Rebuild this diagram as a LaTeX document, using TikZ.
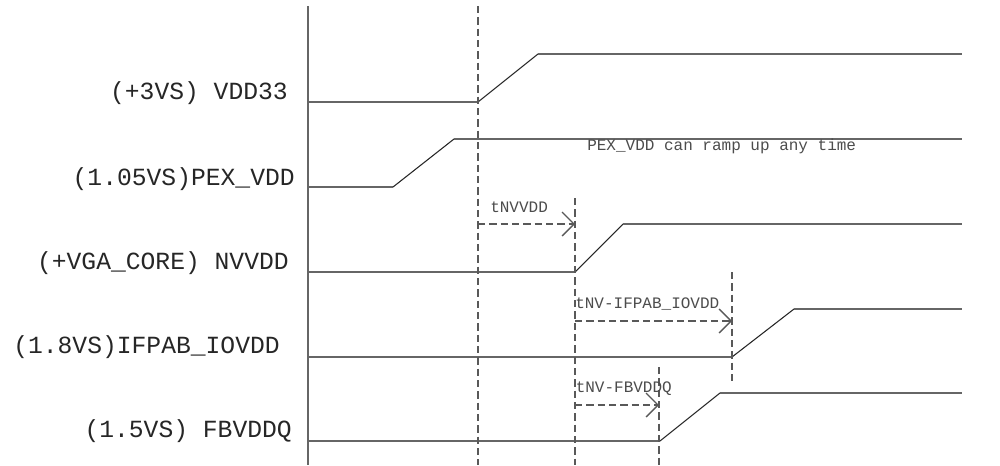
\documentclass[tikz,border=0pt]{standalone}
\usepackage{fontspec}
\setmonofont{Liberation Mono}
\usetikzlibrary{%
  arrows.meta,%
  positioning%
}

\begin{document}
\begin{tikzpicture}[
    x=0.75pt,y=-0.75pt,
    >={Straight Barb[length=9pt,width=18pt]},
    level/.style={draw=black!60,line width=1.4pt},
    ramp/.style={draw=black!85,line width=0.8pt},
    marker/.style={draw=black!65,line width=1pt,dash pattern=on 5.5pt off 3pt},
    timing/.style={marker,->},
    siglabel/.style={anchor=base east,inner sep=0pt,text=black!85,
        font=\ttfamily\fontsize{18.5}{20}\selectfont},
    note/.style={anchor=base west,inner sep=0pt,text=black!70,
        font=\ttfamily\fontsize{12}{14}\selectfont}
  ]
    \useasboundingbox (0,0) rectangle (1000,465);

    % time axis
    \coordinate (axtop) at (308,6);
    \coordinate (axbot) at (308,465);
    \draw[level,line width=1pt] (axtop) -- (axbot);

    % rails: name/low/high/ramp start/ramp end
    \foreach \n/\lo/\hi/\ra/\rb in {vdd/102/54/478/538,
        pex/187/139/393/454, nv/272/224/575/623,
        io/357/309/732/794, fb/441/393/660/720}{
      \coordinate (\n-s) at (308,\lo);
      \coordinate (\n-a) at (\ra,\lo);
      \coordinate (\n-b) at (\rb,\hi);
      \coordinate (\n-e) at (962,\hi);
      \draw[level] (\n-s) -- (\n-a);
      \draw[ramp] (\n-a) -- (\n-b);
      \draw[level] (\n-b) -- (\n-e);
    }

    \node[siglabel] (lvdd) at (288,99.5) {(+3VS) VDD33};
    \node[siglabel] (lpex) at (295,185)  {(1.05VS)PEX\_VDD};
    \node[siglabel] (lnv)  at (289,269)  {(+VGA\_CORE) NVVDD};
    \node[siglabel] (lio)  at (280,353)  {(1.8VS)IFPAB\_IOVDD};
    \node[siglabel] (lfb)  at (292,437.5) {(1.5VS) FBVDDQ};

    % timing markers
    \coordinate (m1t) at (478,6);   \coordinate (m1b) at (478,465);
    \coordinate (m2t) at (575,198); \coordinate (m2b) at (575,465);
    \coordinate (m3t) at (732,272); \coordinate (m3b) at (732,382);
    \coordinate (m4t) at (659,367); \coordinate (m4b) at (659,465);
    \foreach \m in {m1,m2,m3,m4}
      \draw[marker] (\m t) -- (\m b);

    \coordinate (t1a) at (478,224); \coordinate (t1b) at (575,224);
    \coordinate (t2a) at (575,321); \coordinate (t2b) at (732,321);
    \coordinate (t3a) at (575,405); \coordinate (t3b) at (659,405);
    \draw[timing] (t1a) -- (t1b);
    \draw[timing] (t2a) -- (t2b);
    \draw[timing] (t3a) -- (t3b);

    \node[note] (n1) at (490,212)   {tNVVDD};
    \node[note] (n2) at (575,308.5) {tNV-IFPAB\_IOVDD};
    \node[note] (n3) at (575.5,392.5) {tNV-FBVDDQ};
    \node[note] (npex) at (587,150.5) {PEX\_VDD can ramp up any time};
\end{tikzpicture}
\end{document}
